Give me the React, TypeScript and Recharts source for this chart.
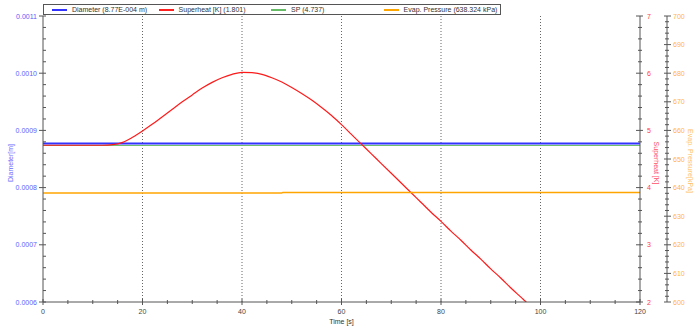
import React from 'react';
import { ComposedChart, Line, XAxis, YAxis, ReferenceLine } from 'recharts';

// ---- data ----
const shTime = [0, 2, 4, 6, 8, 10, 12, 14, 16, 18, 20, 22, 24, 26, 28, 30, 32, 34, 36, 38, 40, 42, 44, 46, 48, 50, 52, 54, 56, 58, 60, 62, 64, 66, 68, 70, 72, 74, 76, 78, 80, 82, 84, 86, 88, 90, 92, 94, 96, 98, 100];
const superheat = [4.74, 4.74, 4.74, 4.74, 4.74, 4.74, 4.74, 4.75, 4.79, 4.88, 4.99, 5.11, 5.24, 5.37, 5.5, 5.62, 5.74, 5.84, 5.92, 5.98, 6.015, 6.01, 5.98, 5.92, 5.845, 5.75, 5.645, 5.53, 5.4, 5.26, 5.1, 4.93, 4.76, 4.59, 4.42, 4.25, 4.08, 3.91, 3.74, 3.57, 3.41, 3.24, 3.08, 2.91, 2.75, 2.58, 2.42, 2.25, 2.09, 1.93, 1.8];
const diameterTime = [0, 120];
const diameter = [0.000877, 0.000877];
const spTime = [0, 120];
const setpoint = [4.737, 4.737];
const pressureTime = [0, 48, 48.2, 120];
const pressure = [638.1, 638.1, 638.3, 638.3];

const xMajorTicks = [0, 20, 40, 60, 80, 100, 120];
const gridTimes = [20, 40, 60, 80, 100];
const diaMajorTicks = [0.0006, 0.0007, 0.0008, 0.0009, 0.001, 0.0011];
const shMajorTicks = [2, 3, 4, 5, 6, 7];
const pMajorTicks = [600, 610, 620, 630, 640, 650, 660, 670, 680, 690, 700];

const legendLabels = ['Diameter (8.77E-004 m)', 'Superheat [K] (1.801)', 'SP (4.737)', 'Evap. Pressure (638.324 kPa)'];
const legendColors = ['#3333ff', '#ff2020', '#66bb66', '#ffa500'];
const legendWidths = [108, 114, 114, 118];

// ---- helpers ----
const subdivide = (majors: number[], n: number) => {
  const out: number[] = [];
  for (let i = 0; i < majors.length - 1; i++) {
    for (let k = 0; k < n; k++) out.push(majors[i] + ((majors[i + 1] - majors[i]) * k) / n);
  }
  out.push(majors[majors.length - 1]);
  return out;
};
const isMajor = (v: number, majors: number[]) => majors.some((m) => Math.abs(m - v) <= 1e-9 * Math.max(1, Math.abs(m)) || Math.abs(m - v) < 1e-12);

const toRows = (xs: number[], ys: number[]) => xs.map((t, i) => ({ t, v: ys[i] }));
const shData = toRows(shTime, superheat);
const diaData = toRows(diameterTime, diameter);
const spData = toRows(spTime, setpoint);
const pData = toRows(pressureTime, pressure);

const xTicks = subdivide(xMajorTicks, 4);
const diaTicks = subdivide(diaMajorTicks, 5);
const shTicks = subdivide(shMajorTicks, 5);
const pTicks = subdivide(pMajorTicks, 5);

const FONT = '"Liberation Sans", Arial, sans-serif';
const AXIS = '#555';

const XTick = (props: any) => {
  const { x, y, payload } = props;
  const v = payload.value;
  const major = xMajorTicks.includes(Math.round(v * 1000) / 1000);
  return (
    <g>
      <line x1={x} x2={x} y1={y - (major ? 3 : 2)} y2={y + (major ? 3 : 2)} stroke={AXIS} strokeWidth={1} />
      {major && (
        <text x={x} y={y + 9} textAnchor="middle" dominantBaseline="central" fontSize={7} fill="#444" fontFamily={FONT}>
          {Math.round(v)}
        </text>
      )}
    </g>
  );
};

const TopTick = (props: any) => {
  const { x, y } = props;
  return <line x1={x} x2={x} y1={y} y2={y + 2} stroke="#888" strokeWidth={1} />;
};

const DiaTick = (props: any) => {
  const { x, y, payload } = props;
  const v = payload.value;
  const major = isMajor(v, diaMajorTicks);
  return (
    <g>
      <line x1={major ? x - 4 : x} x2={x + 3} y1={y} y2={y} stroke={AXIS} strokeWidth={1} />
      {major && (
        <text x={x - 6} y={y} textAnchor="end" dominantBaseline="central" fontSize={7} fill="#5c5cff" fontFamily={FONT}>
          {v.toFixed(4)}
        </text>
      )}
    </g>
  );
};

const ShTick = (props: any) => {
  const { x, y, payload } = props;
  const v = payload.value;
  const major = isMajor(v, shMajorTicks);
  return (
    <g>
      <line x1={major ? x - 4 : x - 2} x2={major ? x + 3 : x + 2} y1={y} y2={y} stroke={AXIS} strokeWidth={1} />
      {major && (
        <text x={x + 7} y={y} textAnchor="start" dominantBaseline="central" fontSize={7} fill="#ff3b3b" fontFamily={FONT}>
          {Math.round(v)}
        </text>
      )}
    </g>
  );
};

const PTick = (props: any) => {
  const { x, y, payload } = props;
  const v = payload.value;
  const major = isMajor(v, pMajorTicks);
  return (
    <g>
      <line x1={major ? x - 3 : x - 2} x2={major ? x + 4 : x + 2} y1={y} y2={y} stroke={AXIS} strokeWidth={1} />
      {major && (
        <text x={x + 6} y={y} textAnchor="start" dominantBaseline="central" fontSize={7} fill="#ffb347" fontFamily={FONT}>
          {Math.round(v)}
        </text>
      )}
    </g>
  );
};

const Legend = () => (
  <div
    style={{
      position: 'absolute',
      left: 43,
      top: 4,
      width: 456,
      height: 9,
      border: '1px solid #555',
      background: '#fff',
      display: 'flex',
      alignItems: 'center',
      fontFamily: FONT,
      fontSize: 7,
      color: '#333',
      whiteSpace: 'nowrap',
      lineHeight: '9px',
    }}
  >
    {legendLabels.map((l, i) => (
      <div key={l} style={{ width: legendWidths[i], display: 'flex', alignItems: 'center', paddingLeft: i === 0 ? 8 : 0 }}>
        <div style={{ width: 15, height: 2, background: legendColors[i], marginRight: 5, flexShrink: 0 }} />
        <span>{l}</span>
      </div>
    ))}
  </div>
);

export default function App() {
  return (
    <div style={{ position: 'absolute', left: 0, top: 0, width: 700, height: 331, background: '#fff', fontFamily: FONT }}>
      <ComposedChart width={700} height={331} margin={{ top: 16, right: 0, bottom: 0, left: 0 }}>
        <XAxis
          xAxisId="b"
          dataKey="t"
          type="number"
          domain={[0, 120]}
          ticks={xTicks}
          interval={0}
          height={29}
          tickSize={0}
          tickMargin={0}
          tickLine={false}
          tick={<XTick />}
          axisLine={{ stroke: AXIS }}
          allowDataOverflow
          label={{
            content: (p: any) => (
              <text x={341.5} y={p.viewBox.y + 19} textAnchor="middle" dominantBaseline="central" fontSize={7} fill="#333" fontFamily={FONT}>
                Time [s]
              </text>
            ),
          }}
        />
        <XAxis
          xAxisId="top"
          orientation="top"
          dataKey="t"
          type="number"
          domain={[0, 120]}
          ticks={xTicks}
          interval={0}
          height={0}
          tickSize={0}
          tickMargin={0}
          tickLine={false}
          tick={<TopTick />}
          axisLine={{ stroke: '#aaa' }}
          allowDataOverflow
        />
        <YAxis
          yAxisId="dia"
          orientation="left"
          width={43}
          type="number"
          domain={[0.0006, 0.0011]}
          ticks={diaTicks}
          interval={0}
          tickSize={0}
          tickMargin={0}
          tickLine={false}
          tick={<DiaTick />}
          axisLine={{ stroke: AXIS }}
          allowDataOverflow
          label={{
            content: (p: any) => {
              const cx = 10;
              const cy = p.viewBox.y + p.viewBox.height / 2 + 4;
              return (
                <text x={cx} y={cy} transform={`rotate(-90 ${cx} ${cy})`} textAnchor="middle" dominantBaseline="central" fontSize={7} fill="#6a6aff" fontFamily={FONT}>
                  Diameter[m]
                </text>
              );
            },
          }}
        />
        <YAxis
          yAxisId="r2"
          orientation="right"
          width={33}
          type="number"
          domain={[600, 700]}
          ticks={pTicks}
          interval={0}
          tickSize={0}
          tickMargin={0}
          tickLine={false}
          tick={<PTick />}
          axisLine={{ stroke: AXIS }}
          allowDataOverflow
          label={{
            content: (p: any) => {
              const cx = p.viewBox.x + 23;
              const cy = p.viewBox.y + p.viewBox.height / 2 + 2;
              return (
                <text x={cx} y={cy} transform={`rotate(90 ${cx} ${cy})`} textAnchor="middle" dominantBaseline="central" fontSize={7} fill="#ffc060" fontFamily={FONT}>
                  Evap. Pressure[kPa]
                </text>
              );
            },
          }}
        />
        <YAxis
          yAxisId="r1"
          orientation="right"
          width={27}
          type="number"
          domain={[2, 7]}
          ticks={shTicks}
          interval={0}
          tickSize={0}
          tickMargin={0}
          tickLine={false}
          tick={<ShTick />}
          axisLine={{ stroke: AXIS }}
          allowDataOverflow
          label={{
            content: (p: any) => {
              const cx = p.viewBox.x + 16;
              const cy = p.viewBox.y + p.viewBox.height / 2 + 4;
              return (
                <text x={cx} y={cy} transform={`rotate(90 ${cx} ${cy})`} textAnchor="middle" dominantBaseline="central" fontSize={7} fill="#ff4d6a" fontFamily={FONT}>
                  Superheat [K]
                </text>
              );
            },
          }}
        />
        {gridTimes.map((t) => (
          <ReferenceLine key={t} x={t} xAxisId="b" yAxisId="dia" stroke="#666" strokeDasharray="1 2" strokeWidth={1} />
        ))}
        <Line data={spData} dataKey="v" xAxisId="b" yAxisId="r1" type="linear" stroke="#66bb66" strokeWidth={1} dot={false} isAnimationActive={false} />
        <Line data={diaData} dataKey="v" xAxisId="b" yAxisId="dia" type="linear" stroke="#3333ff" strokeWidth={2} dot={false} isAnimationActive={false} />
        <Line data={shData} dataKey="v" xAxisId="b" yAxisId="r1" type="monotone" stroke="#ff1a1a" strokeWidth={1.2} dot={false} isAnimationActive={false} />
        <Line data={pData} dataKey="v" xAxisId="b" yAxisId="r2" type="linear" stroke="#ffa500" strokeWidth={1.5} dot={false} isAnimationActive={false} />
      </ComposedChart>
      <Legend />
    </div>
  );
}
